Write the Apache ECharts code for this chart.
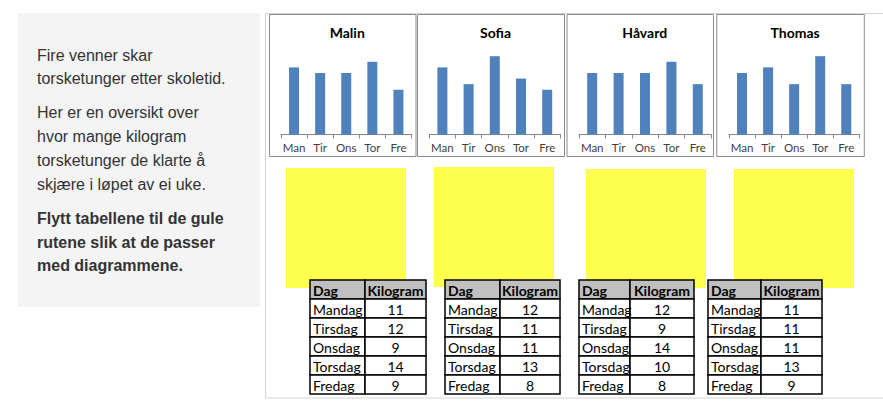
<!DOCTYPE html>
<html>
<head>
<meta charset="utf-8">
<script src="https://cdn.jsdelivr.net/npm/echarts@6/dist/echarts.min.js"></script>
<style>
html,body{margin:0;padding:0;background:#fff;}
#c{width:883px;height:411px;}
</style>
</head>
<body>
<div id="c"></div>
<script>
// ---- data ----
var days = ['Man', 'Tir', 'Ons', 'Tor', 'Fre'];
var names = ['Malin', 'Sofia', 'Håvard', 'Thomas'];
var malin = [12, 11, 11, 13, 8];
var sofia = [12, 9, 14, 10, 8];
var havard = [11, 11, 11, 13, 9];
var thomas = [11, 12, 9, 14, 9];

var tableHeader = ['Dag', 'Kilogram'];
var tableDays = ['Mandag', 'Tirsdag', 'Onsdag', 'Torsdag', 'Fredag'];
var table1 = [11, 12, 9, 14, 9];
var table2 = [12, 11, 11, 13, 8];
var table3 = [12, 9, 14, 10, 8];
var table4 = [11, 11, 11, 13, 9];

var introLines = ['Fire venner skar', 'torsketunger etter skoletid.'];
var overviewLines = ['Her er en oversikt over', 'hvor mange kilogram', 'torsketunger de klarte å', 'skjære i løpet av ei uke.'];
var taskLines = ['Flytt tabellene til de gule', 'rutene slik at de passer', 'med diagrammene.'];

// ---- layout ----
var seriesData = [malin, sofia, havard, thomas];
var boxes = [[269, 14, 146.5, 142], [417, 14, 147, 142], [566.5, 14, 146.5, 142], [716.3, 14, 147.5, 142]];
var grids = [[281, 130.5], [429.3, 131], [579, 132], [729, 130.3]];
var yellows = [[286, 168, 120, 120], [434, 167, 120, 112], [586, 169, 120, 119], [734, 169, 120, 119]];
var tables = [[310, 365, 426], [445, 500, 560], [579, 630, 694], [708, 761, 822]];
var tableData = [table1, table2, table3, table4];

var graphic = [];
// left panel
graphic.push({type: 'rect', shape: {x: 18, y: 13, width: 242, height: 294}, style: {fill: '#f4f4f4'}, z: 0});
// outer frame
graphic.push({type: 'rect', shape: {x: 265.5, y: 13.5, width: 700, height: 384.5}, style: {fill: 'none', stroke: '#d4d4d4', lineWidth: 1}, z: 0});
function addText(t, x, y, font, fill, align) {
  graphic.push({type: 'text', z: 10, style: {text: t, x: x, y: y, font: font, fill: fill, textAlign: align || 'left', textVerticalAlign: 'middle'}});
}
var bodyFont = '16px "Liberation Sans", Arial, sans-serif';
var ly = [55, 78];
introLines.forEach(function (t, i) { addText(t, 37, ly[i], bodyFont, '#333333'); });
var ly2 = [112, 136, 160, 184];
overviewLines.forEach(function (t, i) { addText(t, 37, ly2[i], bodyFont, '#333333'); });
var ly3 = [218, 242, 265];
taskLines.forEach(function (t, i) { addText(t, 37, ly3[i], 'bold ' + bodyFont, '#333333'); });

// chart boxes
boxes.forEach(function (b) {
  graphic.push({type: 'rect', z: 1, shape: {x: b[0] + 0.5, y: b[1] + 0.5, width: b[2], height: b[3]}, style: {fill: 'none', stroke: '#8c8c8c', lineWidth: 1}});
});
// yellow boxes
yellows.forEach(function (r, i) {
  graphic.push({type: 'rect', z: 2, shape: {x: r[0], y: r[1], width: r[2], height: r[3]}, style: {fill: '#ffff4d'}});
  if (i === 1) {
    graphic.push({type: 'rect', z: 2, shape: {x: r[0], y: r[1] + r[3], width: 11, height: 8}, style: {fill: '#ffff4d'}});
  }
});
// tables
var rowTop = 280, rowH = 19, headH = 19;
tables.forEach(function (t, ti) {
  var x0 = t[0], xd = t[1], x1 = t[2];
  graphic.push({type: 'rect', z: 5, shape: {x: x0, y: rowTop, width: xd - x0, height: headH}, style: {fill: '#c0c0c0', stroke: '#000', lineWidth: 1.5}});
  graphic.push({type: 'rect', z: 5, shape: {x: xd, y: rowTop, width: x1 - xd, height: headH}, style: {fill: '#c0c0c0', stroke: '#000', lineWidth: 1.5}});
  addText(tableHeader[0], x0 + 3, rowTop + headH / 2 + 1, 'bold 14px Lato, sans-serif', '#000');
  addText(tableHeader[1], (xd + x1) / 2, rowTop + headH / 2 + 1, 'bold 14px Lato, sans-serif', '#000', 'center');
  tableDays.forEach(function (d, ri) {
    var y = rowTop + headH + ri * rowH;
    graphic.push({type: 'rect', z: 5, shape: {x: x0, y: y, width: xd - x0, height: rowH}, style: {fill: '#fff', stroke: '#000', lineWidth: 1.5}});
    graphic.push({type: 'rect', z: 5, shape: {x: xd, y: y, width: x1 - xd, height: rowH}, style: {fill: '#fff', stroke: '#000', lineWidth: 1.5}});
    addText(d, x0 + 3, y + rowH / 2 + 1, '14px Lato, sans-serif', '#000');
    addText(String(tableData[ti][ri]), (xd + x1) / 2, y + rowH / 2 + 1, '14px Lato, sans-serif', '#000', 'center');
  });
});

var option = {
  animation: false,
  backgroundColor: '#ffffff',
  title: names.map(function (n, i) {
    return {text: n, left: boxes[i][0] + boxes[i][2] / 2, textAlign: 'center', top: 20,
      textStyle: {fontFamily: 'Lato, sans-serif', fontWeight: 'bold', fontSize: 14, color: '#000'}};
  }),
  grid: grids.map(function (g) { return {left: g[0], width: g[1], top: 45, height: 89.5}; }),
  xAxis: grids.map(function (g, i) {
    return {type: 'category', gridIndex: i, data: days,
      axisLine: {lineStyle: {color: '#868686', width: 1}},
      axisTick: {show: true, length: 4, interval: 0, lineStyle: {color: '#868686'}},
      axisLabel: {interval: 0, fontFamily: 'Lato, sans-serif', fontSize: 11.5, color: '#404040', margin: 7}};
  }),
  yAxis: grids.map(function (g, i) {
    return {type: 'value', gridIndex: i, min: 0, max: 16, show: false, splitLine: {show: false}};
  }),
  series: seriesData.map(function (d, i) {
    return {type: 'bar', xAxisIndex: i, yAxisIndex: i, data: d, barWidth: 10, itemStyle: {color: '#4f81bd'}};
  }),
  graphic: graphic
};
var chart = echarts.init(document.getElementById('c'), null, {renderer: 'svg'});
chart.setOption(option);
</script>
</body>
</html>
